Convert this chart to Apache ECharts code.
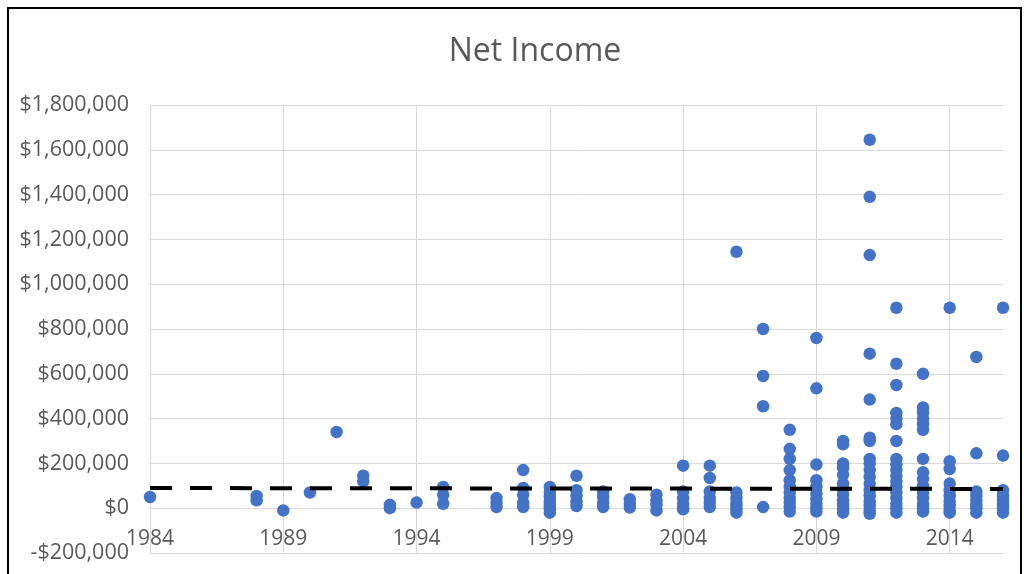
<!DOCTYPE html>
<html>
<head>
<meta charset="utf-8">
<title>Net Income</title>
<script src="https://cdn.jsdelivr.net/npm/echarts@6/dist/echarts.min.js"></script>
<style>
  html, body { margin: 0; padding: 0; background: #ffffff; }
  #chart { width: 1024px; height: 574px; }
</style>
</head>
<body>
<div id="chart"></div>
<script>
// Net income per company, grouped by year
const ni1984 = [50000];
const ni1988 = [55000, 35000];
const ni1989 = [-10000];
const ni1990 = [70000];
const ni1991 = [340000];
const ni1992 = [145000, 120000];
const ni1993 = [15000, 0];
const ni1994 = [25000];
const ni1995 = [95000, 60000, 20000];
const ni1997 = [45000, 25000, 5000];
const ni1998 = [170000, 90000, 60000, 25000, 5000];
const ni1999 = [95000, 70000, 50000, 30000, 15000, 5000, -5000, -20000];
const ni2000 = [145000, 80000, 55000, 30000, 10000];
const ni2001 = [75000, 50000, 25000, 5000];
const ni2002 = [40000, 20000, 3000];
const ni2003 = [60000, 35000, 15000, -10000];
const ni2004 = [190000, 75000, 45000, 20000, 0, -5000];
const ni2005 = [190000, 135000, 75000, 45000, 25000, 5000];
const ni2006 = [1145000, 70000, 45000, 25000, 10000, -5000, -20000];
const ni2007 = [800000, 590000, 455000, 5000];
const ni2008 = [350000, 265000, 220000, 170000, 125000, 95000, 70000, 45000, 25000, 5000, -15000];
const ni2009 = [760000, 535000, 195000, 125000, 95000, 65000, 40000, 20000, 0, -15000];
const ni2010 = [300000, 285000, 200000, 180000, 150000, 110000, 85000, 60000, 35000, 15000, -5000, -20000];
const ni2011 = [1645000, 1390000, 1130000, 690000, 485000, 315000, 300000, 220000, 200000, 170000, 140000, 110000, 80000, 55000, 30000, 10000, -10000, -25000];
const ni2012 = [895000, 645000, 550000, 425000, 400000, 375000, 300000, 220000, 195000, 170000, 145000, 120000, 95000, 70000, 45000, 20000, 0, -20000];
const ni2013 = [600000, 450000, 425000, 400000, 375000, 350000, 220000, 160000, 130000, 100000, 70000, 45000, 20000, 0, -15000];
const ni2014 = [895000, 210000, 175000, 110000, 80000, 55000, 30000, 10000, -10000, -20000];
const ni2015 = [675000, 245000, 75000, 55000, 35000, 15000, 0, -20000];
const ni2016 = [895000, 235000, 80000, 55000, 35000, 15000, 0, -20000];

const years = [1984, 1988, 1989, 1990, 1991, 1992, 1993, 1994, 1995, 1997, 1998, 1999, 2000,
  2001, 2002, 2003, 2004, 2005, 2006, 2007, 2008, 2009, 2010, 2011, 2012, 2013, 2014, 2015, 2016];
const valuesByYear = [ni1984, ni1988, ni1989, ni1990, ni1991, ni1992, ni1993, ni1994, ni1995, ni1997,
  ni1998, ni1999, ni2000, ni2001, ni2002, ni2003, ni2004, ni2005, ni2006, ni2007, ni2008, ni2009,
  ni2010, ni2011, ni2012, ni2013, ni2014, ni2015, ni2016];

// Linear trend line end points
const trendYears = [1984, 2016];
const trendValues = [90000, 86000];

// Axis range
const firstYear = 1984;
const lastYear = 2016;
const yearStep = 5;
const yMin = -200000;
const yMax = 1800000;
const yStep = 200000;

// x is stored as years since the first year so the 5-year ticks start at 1984
const points = [];
years.forEach(function (yr, i) {
  valuesByYear[i].forEach(function (v) { points.push([yr - firstYear, v]); });
});
const trend = trendYears.map(function (yr, i) { return [yr - firstYear, trendValues[i]]; });

const FONT = "'Open Sans', 'Noto Sans', sans-serif";
const TEXT = '#595959';
const GRID = '#d9d9d9';

function money(v) {
  const s = '$' + Math.abs(v).toLocaleString('en-US');
  return v < 0 ? '-' + s : s;
}

const chart = echarts.init(document.getElementById('chart'), null, { renderer: 'canvas' });
chart.setOption({
  animation: false,
  backgroundColor: '#ffffff',
  title: {
    text: 'Net Income',
    left: 530,
    top: 31,
    textAlign: 'center',
    textStyle: { fontFamily: FONT, fontSize: 32, fontWeight: 'normal', color: TEXT }
  },
  graphic: [{
    type: 'rect',
    shape: { x: 8, y: 8, width: 1013, height: 600 },
    style: { fill: 'none', stroke: '#000000', lineWidth: 2 },
    silent: true
  }],
  grid: { left: 150, right: 21, top: 105, bottom: 21, outerBoundsMode: 'none' },
  xAxis: {
    type: 'value',
    min: 0,
    max: lastYear - firstYear,
    interval: yearStep,
    axisLine: { show: false, onZero: false },
    axisTick: { show: false },
    axisLabel: {
      inside: true,
      showMaxLabel: false,
      margin: 3,
      fontFamily: FONT, fontSize: 21, color: TEXT,
      formatter: function (v) { return String(v + firstYear); }
    },
    splitLine: { show: true, showMaxLine: false, lineStyle: { color: GRID, width: 1 } }
  },
  yAxis: {
    type: 'value',
    min: yMin,
    max: yMax,
    interval: yStep,
    axisLine: { show: false },
    axisTick: { show: false },
    axisLabel: { margin: 21, fontFamily: FONT, fontSize: 21.5, color: TEXT, formatter: money },
    splitLine: { show: true, lineStyle: { color: GRID, width: 1 } }
  },
  series: [
    {
      type: 'scatter',
      data: points,
      symbolSize: 12.5,
      itemStyle: { color: '#4472C4', opacity: 1 },
      z: 2
    },
    {
      type: 'line',
      data: trend,
      symbol: 'none',
      lineStyle: { color: '#000000', width: 4, type: [22, 18] },
      z: 3
    }
  ]
});
</script>
</body>
</html>
